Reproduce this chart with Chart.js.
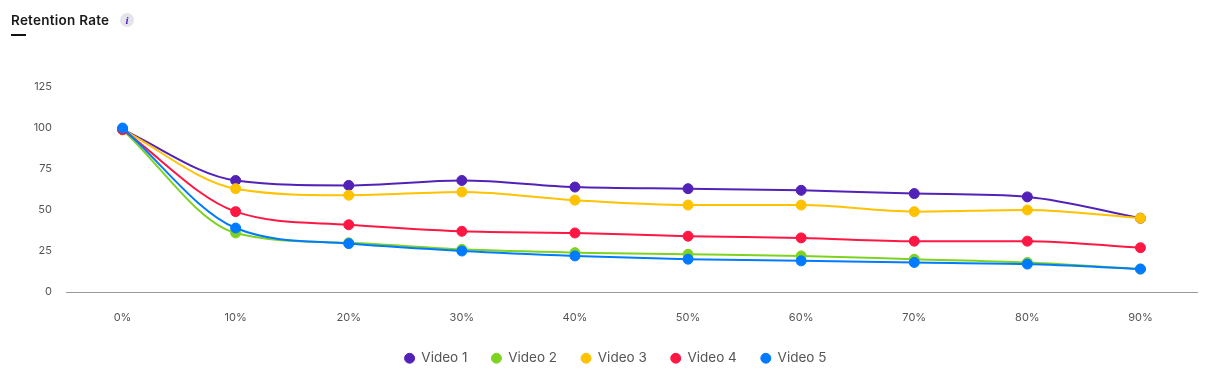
<!DOCTYPE html>
<html>
<head>
<meta charset="utf-8">
<title>Retention Rate</title>
<script src="https://cdn.jsdelivr.net/npm/chart.js@4"></script>
<style>
    html, body { margin: 0; padding: 0; background: #fff; overflow: hidden; }
    #wrap { position: relative; width: 1213px; height: 379px; font-family: Inter, sans-serif; }
    #chart { position: absolute; left: 0; top: 0; }
    #title { position: absolute; left: 11px; top: 12px; font-size: 13.5px; font-weight: 600; letter-spacing: 0.25px; line-height: 16px; color: #1a1a1a; }
    #rule { position: absolute; left: 11px; top: 34px; width: 15px; height: 2px; background: #111; }
    #info { position: absolute; left: 120px; top: 13px; width: 14px; height: 14px; border-radius: 50%; background: #e4e4ec; color: #4f1fb5;
            font: italic 700 11px/14px "Liberation Serif", serif; text-align: center; }
</style>
</head>
<body>
<div id="wrap">
    <canvas id="chart" width="1213" height="379"></canvas>
    <div id="title">Retention Rate</div>
    <div id="rule"></div>
    <div id="info">i</div>
</div>
<script>
// --- Data ---
const categories = ['0%', '10%', '20%', '30%', '40%', '50%', '60%', '70%', '80%', '90%'];
const video1 = [99, 68, 65, 68, 64, 63, 62, 60, 58, 45];
const video2 = [99, 36, 30, 26, 24, 23, 22, 20, 18, 14];
const video3 = [99, 63, 59, 61, 56, 53, 53, 49, 50, 45];
const video4 = [99, 49, 41, 37, 36, 34, 33, 31, 31, 27];
const video5 = [100, 39, 29.5, 25, 22, 20, 19, 18, 17, 14];
const seriesNames = ['Video 1', 'Video 2', 'Video 3', 'Video 4', 'Video 5'];
const seriesValues = [video1, video2, video3, video4, video5];
const seriesColors = ['#5222b8', '#7ed321', '#ffc200', '#ff1744', '#007bff'];

const tickColor = '#555';

new Chart(document.getElementById('chart').getContext('2d'), {
    type: 'line',
    data: {
        labels: categories,
        datasets: seriesValues.map((values, i) => ({
            label: seriesNames[i],
            data: values,
            borderColor: seriesColors[i],
            backgroundColor: seriesColors[i],
            pointBackgroundColor: seriesColors[i],
            pointBorderColor: seriesColors[i],
            borderWidth: 2,
            pointRadius: 5,
            pointBorderWidth: 1,
            cubicInterpolationMode: 'monotone',
            // later videos sit on top
            order: seriesNames.length - i
        }))
    },
    options: {
        responsive: false,
        animation: false,
        // left padding also moves the centred legend over to where it sits in the original
        layout: { padding: { top: 87, right: 16, left: 34, bottom: 4 } },
        scales: {
            x: {
                offset: true,
                afterFit: (axis) => { axis.height = 35.5; },
                grid: { display: false, drawTicks: false },
                border: { color: '#999', width: 1 },
                ticks: { color: tickColor, font: { family: 'Inter', size: 11 }, padding: 19, maxRotation: 0 }
            },
            y: {
                min: 0,
                max: 125,
                afterFit: (axis) => { axis.width = 32; },
                grid: { display: false, drawTicks: false },
                border: { display: false },
                ticks: { stepSize: 25, color: tickColor, font: { family: 'Inter', size: 11 }, padding: 14 }
            }
        },
        plugins: {
            legend: {
                position: 'bottom',
                labels: {
                    usePointStyle: true,
                    pointStyle: 'circle',
                    pointStyleWidth: 10,
                    boxHeight: 7,
                    color: tickColor,
                    font: { family: 'Inter', size: 13.5 },
                    padding: 24,
                    sort: (a, b) => a.datasetIndex - b.datasetIndex
                }
            },
            tooltip: { enabled: false }
        }
    }
});
</script>
</body>
</html>
